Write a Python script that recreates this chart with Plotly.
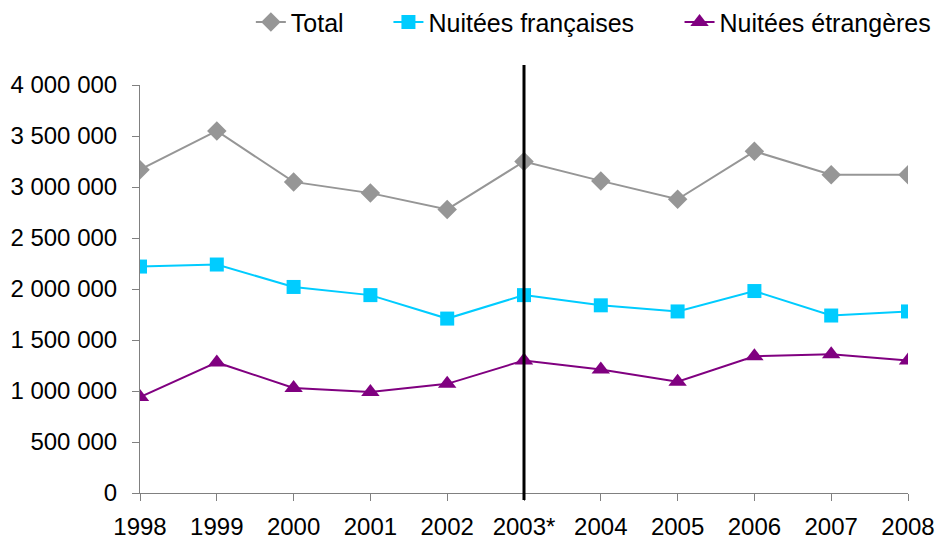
import plotly.graph_objects as go

years = ["1998", "1999", "2000", "2001", "2002", "2003*", "2004", "2005", "2006", "2007", "2008"]
total = [3170000, 3550000, 3050000, 2940000, 2780000, 3250000, 3060000, 2880000, 3350000, 3120000, 3120000]
francaises = [2220000, 2240000, 2020000, 1940000, 1710000, 1940000, 1840000, 1780000, 1980000, 1740000, 1780000]
etrangeres = [940000, 1280000, 1030000, 990000, 1070000, 1300000, 1210000, 1090000, 1340000, 1360000, 1300000]
y_ticks = [0, 500000, 1000000, 1500000, 2000000, 2500000, 3000000, 3500000, 4000000]
y_labels = ["0", "500 000", "1 000 000", "1 500 000", "2 000 000", "2 500 000", "3 000 000", "3 500 000", "4 000 000"]

x = list(range(len(years)))

fig = go.Figure()
fig.add_trace(go.Scatter(x=x, y=total, name="Total", mode="lines+markers", legend="legend",
                         line=dict(color="#969696", width=2),
                         marker=dict(symbol="diamond", size=15, color="#969696")))
fig.add_trace(go.Scatter(x=x, y=francaises, name="Nuitées françaises", mode="lines+markers",
                         legend="legend2",
                         line=dict(color="#00CCFF", width=2),
                         marker=dict(symbol="square", size=14, color="#00CCFF")))
fig.add_trace(go.Scatter(x=x, y=etrangeres, name="Nuitées étrangères", mode="lines+markers",
                         legend="legend3",
                         line=dict(color="#800080", width=2),
                         marker=dict(symbol="triangle-up", size=16, color="#800080")))

fig.add_shape(type="line", xref="x", yref="paper", x0=5, x1=5, y0=-0.017, y1=1.049,
              line=dict(color="black", width=3))

leg_common = dict(orientation="h", xanchor="left", xref="container", y=0.959,
                  yanchor="middle", yref="container", font=dict(size=25),
                  bgcolor="rgba(0,0,0,0)")

fig.update_layout(
    width=936, height=540,
    margin=dict(l=140, r=28, t=85, b=47, autoexpand=False),
    plot_bgcolor="white", paper_bgcolor="white",
    font=dict(family="Liberation Sans, Arial, sans-serif", size=24, color="black"),
    showlegend=True,
    legend=dict(x=0.268, **leg_common),
    legend2=dict(x=0.415, **leg_common),
    legend3=dict(x=0.726, **leg_common),
    xaxis=dict(range=[0, 10], tickvals=x, ticktext=years, showgrid=False, zeroline=False,
               showline=True, linecolor="#808080", linewidth=1, automargin=False,
               ticks="outside", ticklen=7, tickcolor="#808080", ticklabelstandoff=5),
    yaxis=dict(range=[0, 4000000], tickvals=y_ticks, ticktext=y_labels, showgrid=False,
               zeroline=False, showline=True, linecolor="#808080", linewidth=1, automargin=False,
               ticks="outside", ticklen=7, tickcolor="#808080", ticklabelstandoff=10),
)

fig.write_html("out.html", config={"displayModeBar": False},
               post_script="document.body.style.margin='0';")
